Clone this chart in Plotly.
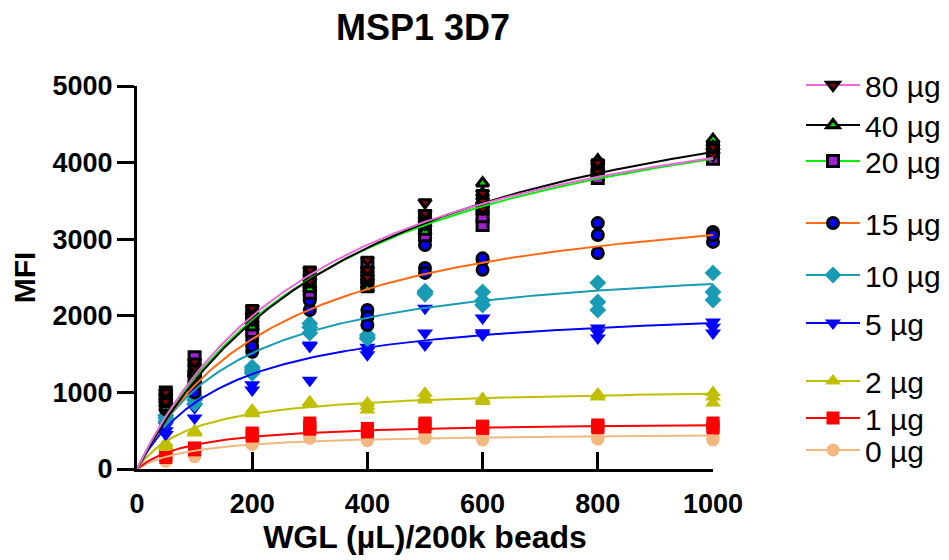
import numpy as np
import plotly.graph_objects as go

# ---------------- data ----------------
wgl_ul = [50, 100, 200, 300, 400, 500, 600, 800, 1000]
series_names = ["80 µg", "40 µg", "20 µg", "15 µg", "10 µg", "5 µg", "2 µg", "1 µg", "0 µg"]

# triplicate MFI readings per WGL volume
mfi_80 = [[950, 880, 1000], [1320, 1180, 1400], [2100, 2000, 1950], [2600, 2500, 2450], [2730, 2600, 2500],
          [3480, 3340, 3200], [3600, 3400, 3500], [3950, 3880, 4000], [4150, 4100, 4200]]
mfi_40 = [[800, 850, 900], [1150, 1250, 1300], [1850, 1950, 2050], [2400, 2350, 2500], [2400, 2350, 2500],
          [3100, 3200, 3300], [3730, 3600, 3500], [4030, 3900, 3850], [4300, 4200, 4150]]
mfi_20 = [[1000, 950, 900], [1460, 1300, 1200], [2050, 1900, 1800], [2550, 2400, 2300], [2650, 2500, 2400],
          [3300, 3150, 3050], [3185, 3300, 3400], [3850, 3950, 3800], [4100, 4050, 4200]]
mfi_15 = [[780, 850, 820], [1060, 1150, 1000], [1685, 1530, 1600], [2270, 2075, 2200], [2075, 1985, 1880],
          [2925, 2625, 2560], [2730, 2600, 2750], [3210, 3055, 2820], [3095, 2965, 3050]]
mfi_10 = [[665, 700, 620], [900, 950, 850], [1330, 1300, 1250], [1900, 1775, 1850], [1720, 1750, 1700],
          [2300, 2320, 2280], [2310, 2140, 2200], [2430, 2180, 2075], [2560, 2310, 2205]]
mfi_5 = [[560, 500, 450], [900, 665, 800], [1230, 1100, 1030], [1620, 1160, 1600], [1590, 1490, 1540],
         [2100, 1775, 1620], [1970, 1750, 1780], [1840, 1710, 1780], [1920, 1775, 1850]]
mfi_2 = [[340, 300, 280], [480, 470, 500], [770, 740, 720], [875, 850, 870], [860, 770, 820],
         [990, 930, 900], [900, 880, 920], [965, 940, 980], [940, 860, 1000]]
mfi_1 = [[210, 150, 180], [275, 250, 260], [470, 430, 450], [550, 600, 520], [510, 480, 530],
         [580, 550, 600], [550, 560, 530], [575, 540, 560], [535, 560, 600]]
mfi_0 = [[120, 100, 140], [180, 160, 200], [340, 360, 320], [420, 400, 440], [380, 400, 370],
         [420, 400, 430], [380, 420, 400], [405, 420, 390], [380, 420, 400]]

# one-site binding fit parameters (Bmax, Kd) per series
fit_bmax = [5473, 5814, 5544, 3818, 2839, 2200, 1080, 630, 480]
fit_kd = [348, 405, 370, 250, 175, 155, 100, 100, 100]

x_ticks = [0, 200, 400, 600, 800, 1000]
y_ticks = [0, 1000, 2000, 3000, 4000, 5000]

# ---------------- styles ----------------
all_mfi = [mfi_80, mfi_40, mfi_20, mfi_15, mfi_10, mfi_5, mfi_2, mfi_1, mfi_0]
line_colors = ["#EA68D8", "#000000", "#00F000", "#FF6A13", "#1A9BB5", "#0000FF", "#BFBF00", "#FF0000", "#F2B880"]
marker_symbols = ["triangle-down", "triangle-up", "square", "circle", "diamond",
                  "triangle-down", "triangle-up", "square", "circle"]
marker_fills = ["#8B0000", "#00E000", "#A01FD0", "#0000FF", "#1A9BB5", "#0000FF", "#BFBF00", "#FF0000", "#F2B880"]
marker_lines = [3, 3, 3, 3, 0, 0, 0, 0, 0]
marker_sizes = [11, 11, 11, 11, 13, 14, 14, 13, 13]
# screen y (px) of each legend entry
legend_entry_y = [87, 127, 163, 225, 277, 325, 383, 420, 452]

FONT = "Arial, 'Liberation Sans', Helvetica, sans-serif"

fig = go.Figure()

legend_ids = ["legend" if i == 0 else f"legend{i + 1}" for i in range(len(series_names))]

# legend entries (line + marker)
for i, name in enumerate(series_names):
    fig.add_trace(go.Scatter(
        x=[None], y=[None], mode="lines+markers", name=name, legend=legend_ids[i],
        line=dict(color=line_colors[i], width=2),
        marker=dict(symbol=marker_symbols[i], color=marker_fills[i], size=marker_sizes[i],
                    line=dict(color="black", width=marker_lines[i])),
        showlegend=True))

# data points (drawn from lowest to highest dose)
for i in reversed(range(len(series_names))):
    xs, ys = [], []
    for xv, reps in zip(wgl_ul, all_mfi[i]):
        for r in reps:
            xs.append(xv)
            ys.append(r)
    fig.add_trace(go.Scatter(
        x=xs, y=ys, mode="markers", showlegend=False, cliponaxis=False, hoverinfo="x+y",
        marker=dict(symbol=marker_symbols[i], color=marker_fills[i], size=marker_sizes[i],
                    line=dict(color="black", width=marker_lines[i]))))

# fitted curves
xfit = np.linspace(0, 1000, 301)
for i in reversed(range(len(series_names))):
    yfit = fit_bmax[i] * xfit / (fit_kd[i] + xfit)
    fig.add_trace(go.Scatter(
        x=xfit, y=yfit, mode="lines", showlegend=False,
        line=dict(color=line_colors[i], width=2), hoverinfo="skip"))

W, H = 941, 552
L, T = 129, 78
PW, PH = 576, 383
OFF = 8  # page body margin

legend_style = dict(x=(793 - L) / PW, xanchor="left", yanchor="top",
                    font=dict(size=30, family=FONT, color="black"),
                    bgcolor="rgba(0,0,0,0)", itemsizing="trace", itemwidth=54, maxheight=700)
legend_layout = {}
for lid, ys in zip(legend_ids, legend_entry_y):
    top = ys - OFF - 28
    legend_layout[lid] = dict(legend_style, y=1 + (T - top) / PH)

fig.update_layout(
    width=W, height=H,
    margin=dict(l=L, r=W - L - PW, t=T, b=H - T - PH, autoexpand=False),
    paper_bgcolor="white", plot_bgcolor="white",
    font=dict(family=FONT, color="black"),
    title=dict(text="<b>MSP1 3D7</b>", x=415 / W, xanchor="center", y=1 - 19 / H, yanchor="middle",
               font=dict(size=36, family=FONT, color="black")),
    showlegend=True,
    **legend_layout,
)

fig.update_xaxes(
    range=[0, 1000], tickvals=x_ticks, ticktext=[str(v) for v in x_ticks],
    showline=True, linecolor="black", linewidth=3, mirror=False,
    ticks="inside", ticklen=17, tickwidth=3, tickcolor="black",
    ticklabelstandoff=9,
    tickfont=dict(size=27, family=FONT, color="black", weight="bold"),
    showgrid=False, zeroline=False,
    title=dict(text="<b>WGL (µL)/200k beads</b>", font=dict(size=32, family=FONT, color="black"), standoff=8),
)
fig.update_yaxes(
    range=[0, 5000], tickvals=y_ticks, ticktext=[str(v) for v in y_ticks],
    showline=True, linecolor="black", linewidth=3, mirror=False,
    ticks="outside", ticklen=17, tickwidth=3, tickcolor="black",
    ticklabelstandoff=-1,
    tickfont=dict(size=27, family=FONT, color="black", weight="bold"),
    showgrid=False, zeroline=False,
    title=dict(text="<b>MFI</b>", font=dict(size=30, family=FONT, color="black"), standoff=14),
)

fig.write_html("out.html")
